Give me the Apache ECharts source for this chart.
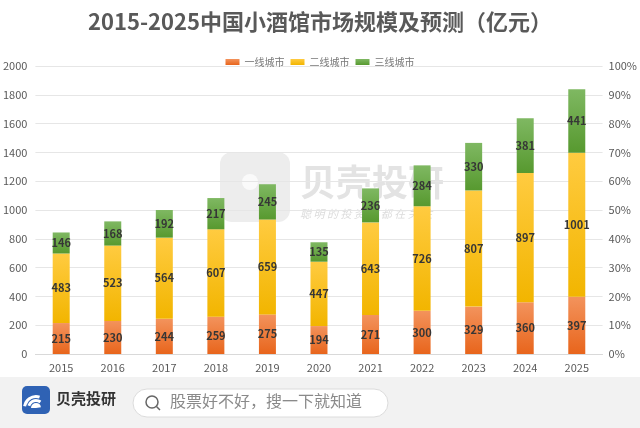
<!DOCTYPE html>
<html lang="zh">
<head>
    <meta charset="UTF-8">
    <title>2015-2025中国小酒馆市场规模及预测</title>
    <script src="https://cdn.jsdelivr.net/npm/echarts@6/dist/echarts.min.js"></script>
    <style>
        html, body { margin: 0; padding: 0; background: #fff; }
        #main { width: 640px; height: 428px; }
    </style>
</head>
<body>
<div id="main"></div>
<script>
    // 年份
    var years = ['2015', '2016', '2017', '2018', '2019', '2020', '2021', '2022', '2023', '2024', '2025'];
    // 一线 / 二线 / 三线城市（亿元）
    var tier1 = [215, 230, 244, 259, 275, 194, 271, 300, 329, 360, 397];
    var tier2 = [483, 523, 564, 607, 659, 447, 643, 726, 807, 897, 1001];
    var tier3 = [146, 168, 192, 217, 245, 135, 236, 284, 330, 381, 441];
    var seriesNames = ['一线城市', '二线城市', '三线城市'];

    var font = '"Noto Sans CJK SC", "Microsoft YaHei", sans-serif';

    function grad(top, bottom) {
        return new echarts.graphic.LinearGradient(0, 0, 0, 1, [
            {offset: 0, color: top},
            {offset: 1, color: bottom}
        ]);
    }

    function barSeries(name, data, color) {
        return {
            name: name,
            type: 'bar',
            stack: 'total',
            barWidth: 17,
            data: data,
            itemStyle: {color: color},
            label: {
                show: true,
                position: 'inside',
                color: '#363636',
                fontWeight: 'bold',
                fontSize: 11,
                fontFamily: font
            }
        };
    }

    var myChart = echarts.init(document.getElementById('main'));

    var option = {
        backgroundColor: '#ffffff',
        color: ['#EC7A30', '#FBC11A', '#6AAB45'],
        title: {
            text: '2015-2025中国小酒馆市场规模及预测（亿元）',
            left: 'center',
            top: 6,
            textStyle: {
                fontFamily: font,
                fontSize: 22,
                fontWeight: 'bold',
                color: '#595959'
            }
        },
        legend: {
            data: seriesNames,
            top: 52,
            left: 'center',
            icon: 'rect',
            itemWidth: 14,
            itemHeight: 6,
            itemGap: 6,
            textStyle: {fontFamily: font, fontSize: 10, color: '#777'}
        },
        grid: {left: 34, right: 35, top: 66, bottom: 74},
        xAxis: {
            type: 'category',
            data: years,
            axisTick: {show: false},
            axisLine: {lineStyle: {color: '#d9d9d9'}},
            axisLabel: {color: '#595959', fontSize: 11, margin: 8, fontFamily: font}
        },
        yAxis: [
            {
                type: 'value',
                min: 0,
                max: 2000,
                interval: 200,
                axisLabel: {
                    color: '#595959', fontSize: 11, margin: 8, fontFamily: font,
                    formatter: function (v) { return String(v); }
                },
                splitLine: {lineStyle: {color: '#e6e6e6'}},
                axisLine: {show: false},
                axisTick: {show: false}
            },
            {
                type: 'value',
                min: 0,
                max: 100,
                interval: 10,
                position: 'right',
                axisLabel: {formatter: '{value}%', color: '#595959', fontSize: 11, margin: 6, fontFamily: font},
                splitLine: {show: false},
                axisLine: {show: false},
                axisTick: {show: false}
            }
        ],
        series: [
            barSeries(seriesNames[0], tier1, grad('#F3935C', '#E8651C')),
            barSeries(seriesNames[1], tier2, grad('#FFCB40', '#F2B500')),
            barSeries(seriesNames[2], tier3, grad('#7FB862', '#57992F'))
        ],
        graphic: [
            // 水印
            {
                type: 'group',
                left: 220,
                top: 152,
                z: -1,
                silent: true,
                children: [
                    {type: 'rect', shape: {x: 0, y: 0, width: 70, height: 70, r: 12}, style: {fill: '#ededed'}},
                    {type: 'circle', shape: {cx: 30, cy: 30, r: 8}, style: {fill: '#fafafa'}},
                    {type: 'text', x: 80, y: 12, style: {text: '贝壳投研', font: 'bold 36px ' + font, fill: '#e3e3e3'}},
                    {type: 'text', x: 80, y: 56, style: {text: '聪 明 的 投 资 者 都 在 关 注', font: 'italic 11px ' + font, fill: '#dcdcdc'}}
                ]
            },
            // 底部栏
            {
                type: 'group',
                left: 0,
                top: 377,
                z: 10,
                children: [
                    {type: 'rect', z: 10, shape: {x: 0, y: 0, width: 640, height: 51}, style: {fill: '#f2f2f2'}},
                    {type: 'rect', z: 11, shape: {x: 22, y: 9, width: 28, height: 28, r: 5}, style: {fill: '#2F62B4'}},
                    {type: 'sector', z: 12, shape: {cx: 36, cy: 31, r: 13, r0: 10, startAngle: Math.PI * 1.05, endAngle: Math.PI * 1.6}, style: {fill: '#fff'}},
                    {type: 'sector', z: 12, shape: {cx: 36, cy: 31, r: 9, r0: 6, startAngle: Math.PI * 1.1, endAngle: Math.PI * 1.7}, style: {fill: '#fff'}},
                    {type: 'sector', z: 12, shape: {cx: 36, cy: 31, r: 5, r0: 0, startAngle: Math.PI * 1.0, endAngle: Math.PI * 1.95}, style: {fill: '#fff'}},
                    {type: 'text', z: 11, x: 56, y: 14, style: {text: '贝壳投研', font: 'bold 15px ' + font, fill: '#333'}},
                    {type: 'rect', z: 11, shape: {x: 133, y: 12, width: 255, height: 28, r: 14}, style: {fill: '#fff', stroke: '#dcdcdc', lineWidth: 1}},
                    {type: 'circle', z: 12, shape: {cx: 152, cy: 25, r: 6}, style: {fill: 'none', stroke: '#666', lineWidth: 1.5}},
                    {type: 'line', z: 12, shape: {x1: 156.5, y1: 29.5, x2: 160, y2: 33}, style: {stroke: '#666', lineWidth: 1.5}},
                    {type: 'text', z: 12, x: 170, y: 16, style: {text: '股票好不好，搜一下就知道', font: '16px ' + font, fill: '#8a8a8a'}}
                ]
            }
        ]
    };

    myChart.setOption(option);
</script>
</body>
</html>
